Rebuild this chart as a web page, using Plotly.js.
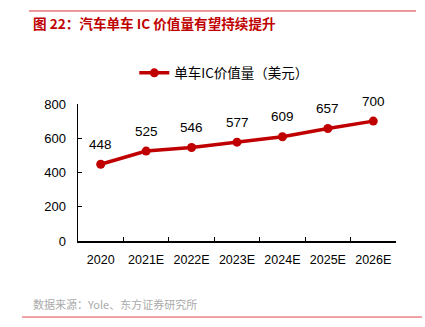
<!DOCTYPE html>
<html>
<head>
<meta charset="utf-8">
<script src="https://cdn.plot.ly/plotly-3.0.1.min.js"></script>
<style>html,body{margin:0;padding:0;background:#fff;}#chart{width:425px;height:327px;}</style>
</head>
<body>
<div id="chart"></div>
<script>
const categories = ["2020", "2021E", "2022E", "2023E", "2024E", "2025E", "2026E"];
const values = [448, 525, 546, 577, 609, 657, 700];
const seriesName = "单车IC价值量（美元）";
const yTicks = [0, 200, 400, 600, 800];
const titleText = "图 22：汽车单车 IC 价值量有望持续提升";
const sourceText = "数据来源：Yole、东方证券研究所";

const RED = "#c00000";
const FONT = "Liberation Sans, Noto Sans CJK SC, sans-serif";
const CJK = "Noto Sans CJK SC, Liberation Sans, sans-serif";

const trace = {
  x: categories, y: values, name: seriesName,
  type: "scatter", mode: "lines+markers",
  line: {color: RED, width: 3.5},
  marker: {color: RED, size: 9},
  hoverinfo: "skip"
};

const labelAnns = categories.map((c, i) => ({
  x: i, y: values[i], xref: "x", yref: "y",
  text: String(values[i]), showarrow: false, yshift: 20,
  font: {family: FONT, size: 13.5, color: "#000"}
}));

const layout = {
  width: 425, height: 327,
  margin: {l: 78, r: 29, t: 104, b: 86},
  paper_bgcolor: "#fff", plot_bgcolor: "#fff",
  showlegend: true,
  legend: {orientation: "h", x: 0.46, xanchor: "center", y: 1.226, yanchor: "middle",
    font: {family: CJK, size: 13.5, color: "#000"}, itemwidth: 30},
  xaxis: {type: "category", range: [-0.5, 6.5], showline: true, linecolor: "#000", linewidth: 1.5,
    ticks: "inside", tickson: "boundaries", ticklen: 4, tickcolor: "#000", showgrid: false, zeroline: false,
    tickangle: 0, ticklabelstandoff: 6,
    tickfont: {family: FONT, size: 12.5, color: "#000"}},
  yaxis: {range: [0, 800], tickvals: yTicks, showline: true, linecolor: "#000", linewidth: 1.5,
    ticks: "inside", ticklen: 4, tickcolor: "#000", showgrid: false, zeroline: false,
    ticklabelstandoff: 8,
    tickfont: {family: FONT, size: 13, color: "#000"}},
  shapes: [
    {type: "line", xref: "paper", yref: "paper", x0: -0.154, x1: 1.063, y0: 1.679, y1: 1.679, line: {color: "#d9363e", width: 1}},
    {type: "line", xref: "paper", yref: "paper", x0: -0.176, x1: 1.082, y0: -0.555, y1: -0.555, line: {color: "#e0484e", width: 1}}
  ],
  annotations: labelAnns.concat([
    {xref: "paper", yref: "paper", x: -0.148, y: 1.591, xanchor: "left", yanchor: "middle", showarrow: false,
     text: "<b>" + titleText + "</b>", font: {family: CJK, size: 13.6, color: RED}},
    {xref: "paper", yref: "paper", x: -0.148, y: -0.460, xanchor: "left", yanchor: "middle", showarrow: false,
     text: sourceText, font: {family: CJK, size: 11, color: "#aaaaaa"}}
  ])
};

Plotly.newPlot("chart", [trace], layout, {staticPlot: true, displayModeBar: false});
</script>
</body>
</html>
